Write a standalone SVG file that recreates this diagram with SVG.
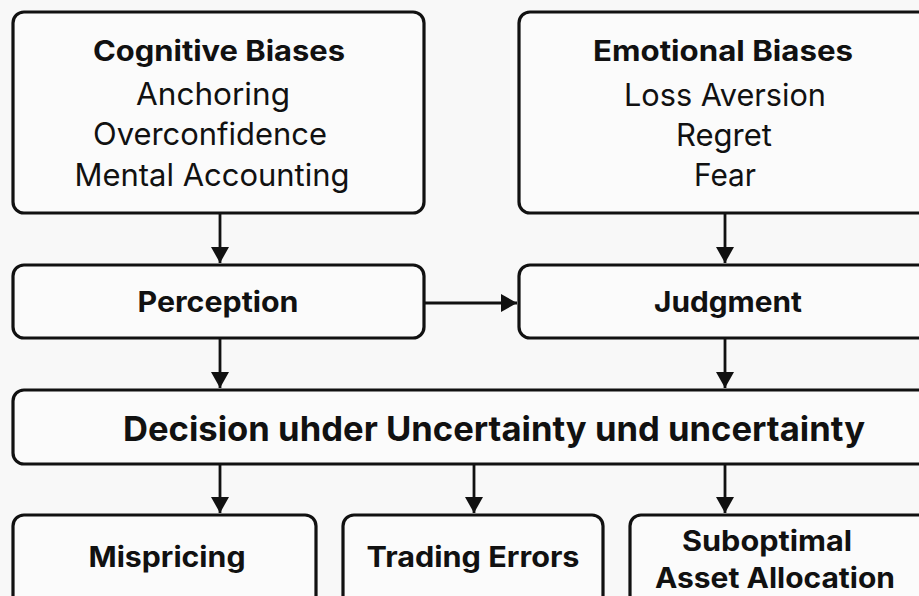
<svg xmlns="http://www.w3.org/2000/svg" width="919" height="596" viewBox="0 0 919 596">
<defs>
<style>
.box{fill:#fbfbfb;stroke:#111;stroke-width:3.2}
.t{font-family:Inter,"Liberation Sans",sans-serif;fill:#111;text-anchor:middle}
.b{font-weight:700}
.r{font-size:31px}
.c{stroke:#111;stroke-width:2.8;fill:none;marker-end:url(#ah)}
</style>
<marker id="ah" viewBox="0 0 16 18" refX="16" refY="9" markerWidth="16" markerHeight="18" orient="auto" markerUnits="userSpaceOnUse">
<path d="M0,0 L16,9 L0,18 Z" fill="#111"/>
</marker>
</defs>
<rect width="919" height="596" fill="#f8f8f8"/>
<g id="cognitive">
<rect class="box" x="13" y="12" width="411" height="201" rx="11"/>
<text class="t b" x="219" y="61" font-size="28" textLength="252" lengthAdjust="spacingAndGlyphs">Cognitive Biases</text>
<text class="t r" x="213" y="105" textLength="154" lengthAdjust="spacingAndGlyphs">Anchoring</text>
<text class="t r" x="210" y="145" textLength="234" lengthAdjust="spacingAndGlyphs">Overconfidence</text>
<text class="t r" x="212" y="186" textLength="275" lengthAdjust="spacingAndGlyphs">Mental Accounting</text>
</g>
<g id="emotional">
<rect class="box" x="519" y="12" width="420" height="201" rx="11"/>
<text class="t b" x="723" y="61" font-size="28" textLength="260" lengthAdjust="spacingAndGlyphs">Emotional Biases</text>
<text class="t r" x="725" y="106" textLength="202" lengthAdjust="spacingAndGlyphs">Loss Aversion</text>
<text class="t r" x="724" y="146" textLength="96" lengthAdjust="spacingAndGlyphs">Regret</text>
<text class="t r" x="725" y="186" textLength="62" lengthAdjust="spacingAndGlyphs">Fear</text>
</g>
<g id="perception">
<rect class="box" x="13" y="265" width="411" height="73" rx="11"/>
<text class="t b" x="218" y="312" font-size="28" textLength="161" lengthAdjust="spacingAndGlyphs">Perception</text>
</g>
<g id="judgment">
<rect class="box" x="519" y="265" width="420" height="73" rx="11"/>
<text class="t b" x="728" y="312" font-size="28" textLength="148" lengthAdjust="spacingAndGlyphs">Judgment</text>
</g>
<g id="decision">
<rect class="box" x="13" y="390" width="926" height="74" rx="11"/>
<text class="t b" x="494" y="441" font-size="34" textLength="742" lengthAdjust="spacingAndGlyphs">Decision uhder Uncertainty und uncertainty</text>
</g>
<g id="mispricing">
<rect class="box" x="13" y="515" width="303" height="95" rx="11"/>
<text class="t b" x="167" y="567" font-size="28" textLength="157" lengthAdjust="spacingAndGlyphs">Mispricing</text>
</g>
<g id="trading">
<rect class="box" x="343" y="515" width="260" height="95" rx="11"/>
<text class="t b" x="473" y="567" font-size="28" textLength="213" lengthAdjust="spacingAndGlyphs">Trading Errors</text>
</g>
<g id="suboptimal">
<rect class="box" x="630" y="515" width="310" height="95" rx="11"/>
<text class="t b" x="767" y="551" font-size="28" textLength="170" lengthAdjust="spacingAndGlyphs">Suboptimal</text>
<text class="t b" x="775" y="588" font-size="28" textLength="240" lengthAdjust="spacingAndGlyphs">Asset Allocation</text>
</g>
<g id="connectors">
<line class="c" x1="220" y1="214" x2="220" y2="263"/>
<line class="c" x1="725" y1="214" x2="725" y2="263"/>
<line class="c" x1="425" y1="303" x2="517" y2="303"/>
<line class="c" x1="220" y1="339" x2="220" y2="388"/>
<line class="c" x1="725" y1="339" x2="725" y2="388"/>
<line class="c" x1="220" y1="465" x2="220" y2="513"/>
<line class="c" x1="474" y1="465" x2="474" y2="513"/>
<line class="c" x1="725" y1="465" x2="725" y2="513"/>
</g>
</svg>
